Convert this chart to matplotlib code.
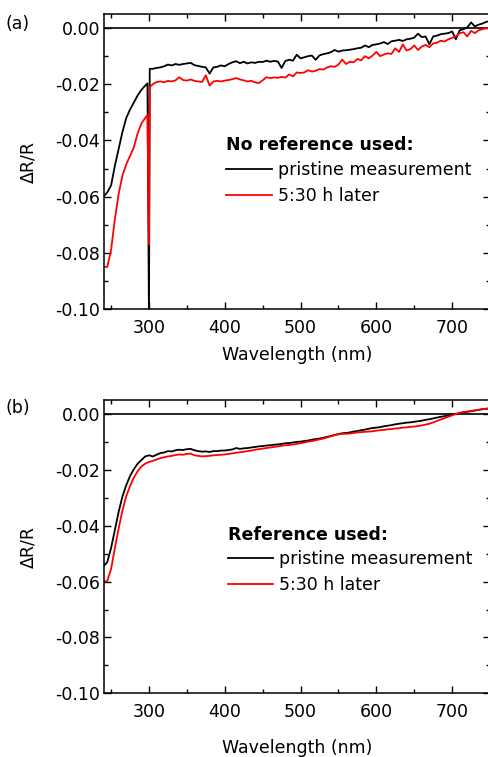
import matplotlib
matplotlib.use("Agg")
import matplotlib.pyplot as plt
from matplotlib.ticker import MultipleLocator

plt.rcParams['font.family'] = ['DejaVu Sans']
plt.rcParams['font.size'] = 12.5
plt.rcParams['axes.unicode_minus'] = False

# ---- panel (a): no reference used ----
wl_a = list(range(240, 300, 5)) + [298, 300, 301] + list(range(305, 755, 5))

pristine_a = [
    -0.0600, -0.0585, -0.0560, -0.0490, -0.0430, -0.0370, -0.0320, -0.0290,
    -0.0265, -0.0240, -0.0220, -0.0205, -0.0197, -0.1050, -0.0145,
    # 305 - 400
    -0.0145, -0.0142, -0.0140, -0.0136, -0.0130, -0.0133, -0.0128, -0.0131,
    -0.0128, -0.0126, -0.0124, -0.0132, -0.0135, -0.0138, -0.0140, -0.0162,
    -0.0140, -0.0138, -0.0133, -0.0136,
    # 405 - 500
    -0.0128, -0.0122, -0.0118, -0.0125, -0.0120, -0.0126, -0.0122, -0.0124,
    -0.0120, -0.0121, -0.0116, -0.0120, -0.0117, -0.0119, -0.0142, -0.0117,
    -0.0113, -0.0116, -0.0095, -0.0108,
    # 505 - 600
    -0.0104, -0.0100, -0.0098, -0.0113, -0.0097, -0.0093, -0.0090, -0.0086,
    -0.0078, -0.0084, -0.0080, -0.0079, -0.0077, -0.0075, -0.0072, -0.0070,
    -0.0062, -0.0068, -0.0060, -0.0058,
    # 605 - 700
    -0.0055, -0.0050, -0.0057, -0.0047, -0.0045, -0.0042, -0.0046, -0.0040,
    -0.0038, -0.0034, -0.0020, -0.0032, -0.0030, -0.0058, -0.0030, -0.0027,
    -0.0022, -0.0020, -0.0018, -0.0012,
    # 705 - 750
    -0.0040, -0.0008, -0.0004, 0.0002, 0.0020, 0.0006, 0.0012, 0.0016,
    0.0022, 0.0025,
]

later_a = [
    -0.0850, -0.0850, -0.0790, -0.0680, -0.0590, -0.0525, -0.0485, -0.0455,
    -0.0425, -0.0375, -0.0340, -0.0320, -0.0310, -0.0770, -0.0210,
    # 305 - 400
    -0.0200, -0.0192, -0.0190, -0.0193, -0.0188, -0.0190, -0.0186, -0.0175,
    -0.0185, -0.0187, -0.0183, -0.0188, -0.0190, -0.0192, -0.0168, -0.0205,
    -0.0190, -0.0188, -0.0190, -0.0187,
    # 405 - 500
    -0.0185, -0.0182, -0.0178, -0.0183, -0.0186, -0.0190, -0.0188, -0.0193,
    -0.0196, -0.0186, -0.0175, -0.0178, -0.0176, -0.0177, -0.0174, -0.0176,
    -0.0165, -0.0172, -0.0158, -0.0160,
    # 505 - 600
    -0.0158, -0.0150, -0.0155, -0.0152, -0.0146, -0.0148, -0.0140, -0.0136,
    -0.0138, -0.0130, -0.0112, -0.0128, -0.0120, -0.0122, -0.0110, -0.0115,
    -0.0100, -0.0108, -0.0098, -0.0085,
    # 605 - 700
    -0.0100, -0.0094, -0.0090, -0.0092, -0.0072, -0.0085, -0.0058, -0.0080,
    -0.0075, -0.0062, -0.0078, -0.0066, -0.0060, -0.0068, -0.0055, -0.0052,
    -0.0045, -0.0048, -0.0040, -0.0035,
    # 705 - 750
    -0.0030, -0.0018, -0.0015, -0.0030, -0.0010, -0.0018, -0.0008, -0.0004,
    0.0000, -0.0002,
]

# ---- panel (b): reference used ----
wl_b = list(range(240, 755, 5))

pristine_b = [
    -0.0545, -0.0530, -0.0480, -0.0415, -0.0350, -0.0295, -0.0255, -0.0222,
    -0.0198, -0.0178, -0.0165, -0.0152, -0.0148, -0.0152, -0.0146, -0.0140,
    -0.0138, -0.0133, -0.0134, -0.0130, -0.0128, -0.0129, -0.0126, -0.0125,
    -0.0130, -0.0133, -0.0135, -0.0134, -0.0136, -0.0133, -0.0133, -0.0131,
    -0.0131, -0.0129, -0.0127, -0.0122, -0.0125, -0.0123, -0.0122, -0.0120,
    -0.0118, -0.0116, -0.0115, -0.0113, -0.0112, -0.0110, -0.0109, -0.0107,
    -0.0105, -0.0104, -0.0102, -0.0100, -0.0099, -0.0097, -0.0095, -0.0092,
    -0.0090, -0.0088, -0.0085, -0.0082, -0.0079, -0.0075, -0.0072, -0.0069,
    -0.0068, -0.0066, -0.0063, -0.0061, -0.0058, -0.0056, -0.0053, -0.0050,
    -0.0049, -0.0047, -0.0044, -0.0042, -0.0040, -0.0037, -0.0035, -0.0033,
    -0.0031, -0.0030, -0.0028, -0.0026, -0.0024, -0.0021, -0.0019, -0.0016,
    -0.0013, -0.0010, -0.0008, -0.0005, -0.0002, 0.0000, 0.0003, 0.0006,
    0.0008, 0.0010, 0.0012, 0.0015, 0.0017, 0.0018, 0.0020,
]

later_b = [
    -0.0600, -0.0598, -0.0555, -0.0480, -0.0410, -0.0345, -0.0295, -0.0258,
    -0.0228, -0.0205, -0.0188, -0.0178, -0.0172, -0.0168, -0.0163, -0.0158,
    -0.0155, -0.0152, -0.0150, -0.0147, -0.0145, -0.0146, -0.0143, -0.0142,
    -0.0148, -0.0150, -0.0152, -0.0151, -0.0150, -0.0148, -0.0147, -0.0146,
    -0.0145, -0.0143, -0.0141, -0.0139, -0.0137, -0.0135, -0.0133, -0.0131,
    -0.0128, -0.0126, -0.0124, -0.0122, -0.0120, -0.0118, -0.0116, -0.0114,
    -0.0112, -0.0111, -0.0109, -0.0107, -0.0105, -0.0102, -0.0099, -0.0097,
    -0.0094, -0.0091, -0.0088, -0.0084, -0.0080, -0.0076, -0.0073, -0.0071,
    -0.0071, -0.0070, -0.0068, -0.0066, -0.0065, -0.0064, -0.0063, -0.0062,
    -0.0060, -0.0058, -0.0057, -0.0055, -0.0054, -0.0052, -0.0051, -0.0049,
    -0.0048, -0.0046, -0.0045, -0.0043, -0.0041, -0.0038, -0.0035, -0.0030,
    -0.0025, -0.0020, -0.0015, -0.0010, -0.0005, 0.0000, 0.0004, 0.0007,
    0.0008, 0.0011, 0.0013, 0.0015, 0.0017, 0.0019, 0.0021,
]

series_labels = ["pristine measurement", "5:30 h later"]
series_colors = ["black", "#ff0000"]


def style_axes(ax, xlabel_y):
    ax.set_xlim(240, 750)
    ax.set_ylim(-0.10, 0.005)
    ax.set_yticks([-0.10, -0.08, -0.06, -0.04, -0.02, 0.00])
    ax.set_xticks([300, 400, 500, 600, 700])
    ax.xaxis.set_minor_locator(MultipleLocator(50))
    ax.yaxis.set_minor_locator(MultipleLocator(0.01))
    ax.yaxis.set_major_formatter(plt.FormatStrFormatter('%.2f'))
    ax.tick_params(which='both', direction='in', top=True, right=True, width=1)
    ax.tick_params(which='major', length=5)
    ax.tick_params(which='minor', length=3)
    ax.tick_params(axis='x', pad=7)
    ax.tick_params(axis='y', pad=2.5)
    for sp in ax.spines.values():
        sp.set_linewidth(1.1)
    ax.axhline(0, color='black', lw=1.2, zorder=1)
    ax.set_xlabel("Wavelength (nm)")
    ax.xaxis.set_label_coords(0.5, xlabel_y)
    ax.set_ylabel("ΔR/R")
    ax.yaxis.set_label_coords(-0.172, 0.5)


def draw_panel(ax, wl, pristine, later, title, anchor, xlabel_y):
    ax.plot(wl, pristine, color=series_colors[0], lw=1.3, label=series_labels[0])
    ax.plot(wl, later, color=series_colors[1], lw=1.3, label=series_labels[1])
    style_axes(ax, xlabel_y)
    leg = ax.legend(title=title, loc='upper left', bbox_to_anchor=anchor,
                    frameon=False, handlelength=2.6, handletextpad=0.35,
                    labelspacing=0.42, borderpad=0, borderaxespad=0,
                    alignment='left', title_fontproperties={'weight': 'bold'})
    leg._legend_box.sep = 5
    return leg


fig = plt.figure(figsize=(4.88, 7.57), dpi=100)
ax_a = fig.add_axes([0.2121, 0.5918, 0.792, 0.3897])
ax_b = fig.add_axes([0.2121, 0.0841, 0.792, 0.3875])

draw_panel(ax_a, wl_a, pristine_a, later_a, "No reference used:", (0.318, 0.585), -0.125)
draw_panel(ax_b, wl_b, pristine_b, later_b, "Reference used:", (0.322, 0.572), -0.155)

fig.text(0.012, 1 - 24 / 757, "(a)", va='center', ha='left')
fig.text(0.012, 1 - 408 / 757, "(b)", va='center', ha='left')

fig.savefig("out.png", dpi=100)
